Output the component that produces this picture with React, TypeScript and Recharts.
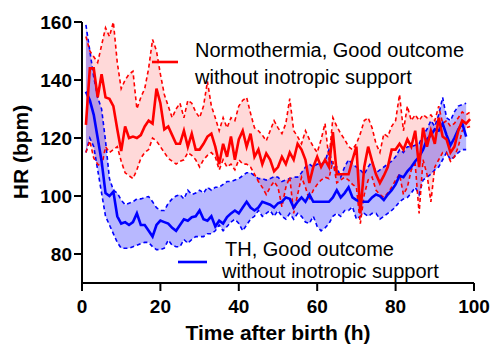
import { ComposedChart, Area, Line, XAxis, YAxis } from "recharts";

const FONT = "'Liberation Sans', Arial, Helvetica, sans-serif";
const RED = "#ff0000";
const BLUE = "#0000ff";

// hourly values, hour 1..99 (red) and 1..98 (blue)
const redMean = [
  124.5, 144, 144, 134, 142, 134, 133.5, 131, 123, 115.5, 124, 120, 120.5, 120, 121, 124, 126, 125, 137, 132, 123, 124, 121, 118, 118,
  122.5, 117, 121.5, 116, 116, 118, 120.5, 121.5, 117, 111, 118, 113.5, 120.5, 112.5, 119.5, 122.5, 117, 121.5, 113.5, 116, 111, 114.7, 112.5, 108.5, 110,
  113.5, 111, 115, 112.5, 118, 116, 112.5, 104.5, 110, 113.5, 110, 112.5, 110, 122, 107.5, 107.5, 107.5, 107.5, 112.5, 117, 94, 110, 117, 112,
  107.5, 104.5, 107, 110, 116, 116, 118, 116, 119.5, 117, 122.5, 110, 123.5, 117, 122.5, 118, 127, 120.5, 119.5, 115, 117, 122.5, 126, 125, 126.5,
];
const redUpper = [
  155, 150, 148, 146, 152, 158, 155, 160, 146, 137, 140, 142, 143, 130, 134, 137, 144, 154, 150, 142, 135, 131, 127, 130, 132,
  127, 133, 132, 129, 127, 131, 139.5, 131, 127, 122.5, 127, 123.5, 127, 126, 131, 133, 134, 128.5, 123.5, 122.5, 121, 119, 122.5, 126, 123.5,
  121.5, 125, 133.6, 122.5, 120.5, 118, 122.5, 119.5, 117, 115, 119.5, 125, 112.5, 127, 124, 121.5, 119.5, 117, 116, 118, 121.5, 126, 127, 123.5,
  118, 115, 121.5, 120.5, 124, 126, 135, 122.5, 131, 126, 128, 126, 128, 127, 128, 126, 131, 125, 126, 124, 125, 127, 129, 128, 129,
];
const redLower = [
  115, 119, 113, 111, 110, 117, 115, 116, 117, 112, 108, 107, 106, 109, 113, 115, 116, 120, 119, 117, 115, 113, 112, 111, 112,
  112.5, 115, 114, 112.5, 110, 112.5, 114, 115, 113.5, 109, 112.5, 110, 111, 109, 112.5, 111, 111, 110, 107.5, 105, 103, 100.5, 103, 105, 103,
  96.3, 103, 106.5, 94, 100.5, 106.5, 103, 98.6, 102, 104, 105.5, 106.5, 106, 112, 104.5, 105.5, 106.5, 105.5, 104, 103, 90.5, 100.5, 105.5, 106.5,
  102, 100.5, 99.5, 101, 103, 105.5, 107.5, 100.5, 103, 109, 111, 94, 112.5, 107.5, 98, 110, 112.5, 115, 115, 112, 113.5, 117, 122.5, 123.5, 124,
];
const blueMean = [
  136, 133, 128, 120, 112, 101, 100, 101.5, 93, 90.5, 91, 90, 91, 94, 90, 90, 88, 86, 90, 91.5, 91, 90.5, 89, 88, 90,
  92, 91.5, 92.7, 93, 95, 92, 91.5, 93, 89.5, 91.5, 90.5, 92.7, 94, 95, 94, 96, 98, 96, 95, 96, 98, 97.5, 97, 96, 97.5,
  98, 99.5, 99, 96, 98, 99.5, 98, 100.5, 98, 98, 98, 98, 98, 99.5, 102, 99.5, 101, 103, 99.5, 98.6, 98, 98, 98, 99.5,
  100.5, 100, 98.6, 100.5, 102, 104, 107, 106.5, 108.5, 110, 112, 113.5, 116, 119.5, 121, 123, 122.5, 125, 121, 117.5, 120, 123, 125, 120.5,
];
const blueUpper = [
  159, 150, 141, 134, 130, 119, 106, 102, 101, 98.6, 97, 97.5, 98, 99, 99, 99.5, 99.8, 98, 96, 95, 95, 97.5, 99, 100, 100.5,
  99, 102, 100.5, 101, 102, 101, 103, 102, 103, 103, 104, 105, 105, 105.5, 106, 107, 108, 108, 107, 106, 106, 105.5, 106, 106.7, 106.5,
  105, 105.5, 106, 106.5, 106.5, 108, 110, 111, 110, 111, 111, 112, 116, 110, 110, 106.5, 110, 112.5, 111, 110, 109, 107.5, 110, 112,
  108, 109, 110, 111, 112, 113.5, 116, 115, 117, 117, 117.5, 118, 121, 123, 126, 124, 128, 134, 127, 126, 129, 131, 131.5, 132,
];
const blueLower = [
  115, 120, 117, 109, 101, 93, 90, 87, 84, 82, 82, 82, 82.5, 83, 83.6, 84, 84, 82.5, 81.5, 81.5, 82, 84.8, 83, 82.5, 82.5,
  85, 83.7, 85, 86, 86, 86, 87, 87, 88, 90, 88, 89.5, 91, 92, 90.5, 88, 90, 92, 93, 95, 93, 94, 95, 93, 95,
  93, 92, 94, 92, 94, 93, 91, 90.5, 93, 89.5, 88, 89, 90.5, 93, 94, 93, 95, 95, 96.3, 92, 93, 94, 93, 94,
  94, 92, 93, 94, 95, 96.3, 98, 99, 99.5, 101, 103, 100.5, 105.5, 106.5, 107.5, 109, 110, 112.5, 115, 112.5, 113.5, 115, 116, 116,
];

const xTicks = [0, 20, 40, 60, 80, 100];
const yTicks = [80, 100, 120, 140, 160];

const data = redMean.map((m, i) => {
  const hasBlue = i < blueMean.length;
  return {
    hour: i + 1,
    redMean: m,
    redUpper: redUpper[i],
    redLower: redLower[i],
    redBand: [redLower[i], redUpper[i]],
    blueMean: hasBlue ? blueMean[i] : null,
    blueUpper: hasBlue ? blueUpper[i] : null,
    blueLower: hasBlue ? blueLower[i] : null,
    blueBand: hasBlue ? [blueLower[i], blueUpper[i]] : null,
  };
});

const tickStyle = { fill: "#000", fontSize: 19, fontWeight: 700, fontFamily: FONT };
const axisStroke = { stroke: "#000", strokeWidth: 2 };

export default function App() {
  return (
    <div style={{ position: "absolute", left: 0, top: 0, width: 492, height: 344, background: "#fff" }}>
      <ComposedChart width={492} height={344} data={data} margin={{ top: 22, right: 18, bottom: 0, left: 0 }}>
        <XAxis
          dataKey="hour"
          type="number"
          domain={[0, 100]}
          ticks={xTicks}
          height={61}
          tickSize={8}
          tickMargin={9}
          tick={tickStyle}
          axisLine={axisStroke}
          tickLine={axisStroke}
        />
        <YAxis
          type="number"
          domain={[70, 160]}
          ticks={yTicks}
          width={82}
          tickSize={8}
          tickMargin={2}
          tick={tickStyle}
          axisLine={axisStroke}
          tickLine={axisStroke}
        />
        <Area dataKey="redBand" stroke="none" fill={RED} fillOpacity={0.15} isAnimationActive={false} />
        <Area dataKey="blueBand" stroke="none" fill={BLUE} fillOpacity={0.28} isAnimationActive={false} />
        <Line dataKey="blueUpper" stroke={BLUE} strokeWidth={1.6} strokeDasharray="4 3" dot={false} isAnimationActive={false} />
        <Line dataKey="blueLower" stroke={BLUE} strokeWidth={1.6} strokeDasharray="4 3" dot={false} isAnimationActive={false} />
        <Line dataKey="redUpper" stroke={RED} strokeWidth={1.6} strokeDasharray="4 3" dot={false} isAnimationActive={false} />
        <Line dataKey="redLower" stroke={RED} strokeWidth={1.6} strokeDasharray="4 3" dot={false} isAnimationActive={false} />
        <Line dataKey="blueMean" stroke={BLUE} strokeWidth={2.6} dot={false} isAnimationActive={false} />
        <Line dataKey="redMean" stroke={RED} strokeWidth={2.6} dot={false} isAnimationActive={false} />
      </ComposedChart>
      <svg width={492} height={344} style={{ position: "absolute", left: 0, top: 0, pointerEvents: "none" }}>
        <g fontFamily={FONT} fontSize={20} fill="#000">
          <line x1={152} y1={62} x2={178} y2={62} stroke={RED} strokeWidth={2.6} />
          <text x={195} y={57}>Normothermia, Good outcome</text>
          <text x={195} y={84}>without inotropic support</text>
          <line x1={178} y1={262} x2={207} y2={262} stroke={BLUE} strokeWidth={2.6} />
          <text x={225} y={256}>TH, Good outcome</text>
          <text x={222} y={278}>without inotropic support</text>
        </g>
        <g fontFamily={FONT} fontSize={21} fontWeight={700} fill="#000">
          <text x={278} y={340} textAnchor="middle">Time after birth (h)</text>
          <text transform="translate(28,152) rotate(-90)" textAnchor="middle">HR (bpm)</text>
        </g>
      </svg>
    </div>
  );
}
